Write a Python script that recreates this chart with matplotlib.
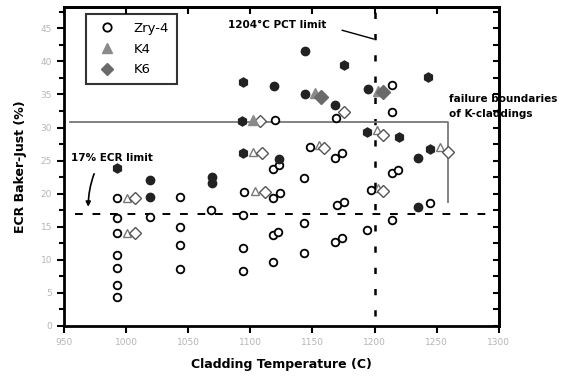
import numpy as np
import matplotlib
matplotlib.use("Agg")
import matplotlib.pyplot as plt
from matplotlib.ticker import MultipleLocator

# Zry-4, open circles
zry_x = [993, 993, 993, 993, 993, 993, 993, 1019, 1043, 1043, 1043, 1043, 1068,
         1095, 1094, 1094, 1094, 1120, 1118, 1123, 1143, 1118, 1124, 1118, 1122,
         1118, 1143, 1143, 1170, 1175, 1168, 1174, 1194, 1214, 1169, 1148, 1168,
         1174, 1214, 1214, 1214, 1219, 1197, 1245]
zry_y = [16.3, 19.3, 14.0, 10.7, 8.8, 6.2, 4.4, 16.5, 19.5, 15.0, 12.2, 8.6, 17.5,
         20.3, 16.8, 11.8, 8.3, 31.1, 23.7, 24.3, 22.4, 19.3, 20.1, 13.7, 14.2,
         9.7, 15.6, 11.0, 18.3, 18.7, 12.7, 13.3, 14.5, 16.0, 31.4, 27.0, 25.4,
         26.1, 36.4, 32.3, 23.1, 23.6, 20.5, 18.6]

# failed specimens, filled black circles
fail_x = [1019, 1019, 1069, 1069, 1119, 1144, 1144, 1168, 1123, 1195, 1235, 1235]
fail_y = [22.0, 19.5, 22.5, 21.6, 36.3, 41.5, 35.0, 33.4, 25.2, 35.8, 25.4, 18.0]

# failed specimens, black hexagons
hex_x = [993, 1094, 1175, 1093, 1094, 1194, 1220, 1243, 1245]
hex_y = [23.9, 36.9, 39.4, 31.0, 26.1, 29.3, 28.5, 37.6, 26.7]

# K4, open triangles / filled
k4_x = [1001, 1001, 1104, 1102, 1155, 1202, 1203, 1253]
k4_y = [19.3, 14.0, 20.4, 26.3, 27.3, 29.6, 20.8, 27.0]
k4f_x = [1102, 1152, 1203]
k4f_y = [31.1, 35.2, 35.5]

# K6, open diamonds / filled
k6_x = [1007, 1007, 1112, 1109, 1108, 1175, 1159, 1207, 1207, 1259]
k6_y = [19.3, 14.0, 20.2, 26.1, 31.0, 32.3, 26.9, 28.9, 20.4, 26.3]
k6f_x = [1157, 1207]
k6f_y = [34.6, 35.3]

xticks = [950, 1000, 1050, 1100, 1150, 1200, 1250, 1300]
yticks = [0, 5, 10, 15, 20, 25, 30, 35, 40, 45]

fig = plt.figure(figsize=(5.82, 3.76), dpi=100)
ax = fig.add_axes([0.110, 0.133, 0.747, 0.848])

ax.plot(zry_x, zry_y, 'o', ms=5.5, mfc='white', mec='black', mew=1.3, zorder=4)
ax.plot(k4_x, k4_y, '^', ms=6, mfc='white', mec='#777777', mew=1.0, zorder=3)
ax.plot(k6_x, k6_y, 'D', ms=6, mfc='white', mec='#555555', mew=1.0, zorder=3)
ax.plot(k4f_x, k4f_y, '^', ms=6.5, color='#8a8a8a', zorder=3)
ax.plot(k6f_x, k6f_y, 'D', ms=7, color='#6a6a6a', zorder=3)
ax.plot(fail_x, fail_y, 'o', ms=6, color='#222222', zorder=4)
ax.plot(hex_x, hex_y, 'h', ms=6.5, color='#222222', zorder=4)

# limits
ax.plot([959, 1293], [17, 17], color='black', lw=1.4, ls=(0, (4, 5)), zorder=2)
ax.plot([1200, 1200], [1.5, 47.5], color='black', lw=1.8, ls=(0, (2.5, 6)), zorder=2)
# failure boundary of K-claddings
ax.plot([955, 1259, 1259], [30.8, 30.8, 18.7], color='#777777', lw=1.3, zorder=2)

ax.text(1082, 45.5, '1204°C PCT limit', fontsize=7.5, fontweight='bold', va='center')
ax.plot([1174, 1199], [44.7, 43.4], color='black', lw=1.0)
ax.text(956, 25.4, '17% ECR limit', fontsize=7.5, fontweight='bold', va='center')
ax.annotate('', xy=(969.5, 17.6), xytext=(975, 23.4),
            arrowprops=dict(arrowstyle='-|>', color='black', lw=1.2,
                            connectionstyle='arc3,rad=0.1', mutation_scale=7))
ax.text(1260, 33.2, 'failure boundaries\nof K-claddings', fontsize=7.5,
        fontweight='bold', va='center', linespacing=1.6, clip_on=False)

ax.set_xlim(950, 1300)
ax.set_ylim(0, 48.2)
ax.set_xticks(xticks)
ax.set_xticklabels([str(t) for t in xticks])
ax.set_yticks(yticks)
ax.set_yticklabels([str(t) for t in yticks])
ax.yaxis.set_minor_locator(MultipleLocator(2.5))
ax.tick_params(axis='both', which='both', direction='out', width=1.5,
               labelsize=6.5, labelcolor='#b5b5b5', top=False, right=False)
ax.tick_params(axis='both', which='major', length=5)
ax.tick_params(axis='y', which='minor', length=3.5)

# inward ticks on top and right
ax2 = ax.secondary_xaxis('top')
ax2.set_xticks(xticks)
ax2.tick_params(direction='in', length=5, width=1.5, labeltop=False)
ax3 = ax.secondary_yaxis('right')
ax3.set_yticks(yticks)
ax3.yaxis.set_minor_locator(MultipleLocator(2.5))
ax3.tick_params(which='both', direction='in', length=4, width=1.5, labelright=False)

for sp in ax.spines.values():
    sp.set_linewidth(2)
ax2.spines['top'].set_linewidth(2)
ax3.spines['right'].set_linewidth(2)

ax.set_xlabel('Cladding Temperature (C)', fontsize=9, fontweight='bold', labelpad=8)
ax.set_ylabel('ECR Baker-Just (%)', fontsize=9, fontweight='bold', labelpad=10)

h1, = ax.plot([], [], 'o', ms=6, mfc='white', mec='black', mew=1.3)
h2, = ax.plot([], [], '^', ms=7, color='#8a8a8a')
h3, = ax.plot([], [], 'D', ms=6.5, color='#6a6a6a')
leg = ax.legend([h1, h2, h3], ['Zry-4', 'K4', 'K6'], loc='upper left',
                bbox_to_anchor=(0.035, 1.0), fontsize=9.5, frameon=True,
                fancybox=False, edgecolor='black', handletextpad=1.0,
                borderpad=0.6, labelspacing=0.6)
leg.get_frame().set_linewidth(1.5)

fig.savefig('out.png', dpi=100)
